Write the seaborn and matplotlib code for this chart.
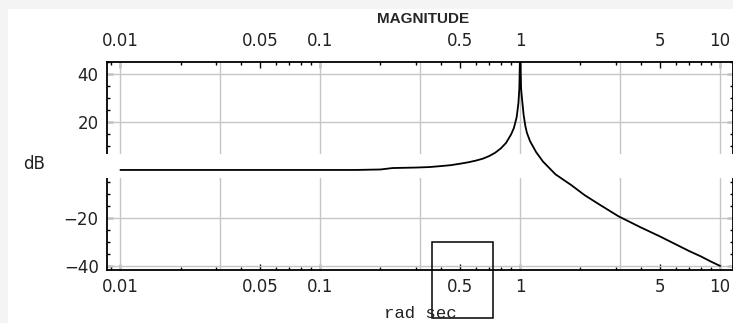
import numpy as np
import pandas as pd
import matplotlib
matplotlib.use("Agg")
import matplotlib.pyplot as plt
import matplotlib.ticker as mticker
import matplotlib.transforms as mtransforms
from matplotlib.patches import Rectangle
import seaborn as sns

sns.set_style("ticks")
plt.rcParams['font.family'] = ['DejaVu Sans']

# values (frequency in rad/sec, magnitude in dB)
freq = [0.01, 0.05, 0.1, 0.15, 0.2, 0.23, 0.3, 0.35, 0.4, 0.45, 0.5, 0.55, 0.6,
        0.65, 0.7, 0.75, 0.8, 0.85, 0.9, 0.93, 0.96, 0.98, 0.99, 1.0, 1.01,
        1.02, 1.04, 1.06, 1.08, 1.12, 1.2, 1.3, 1.5, 1.8, 2.1, 2.5, 3.1, 4, 5,
        6, 7, 8, 9, 10]
mag_db = [0, 0, 0, 0, 0.2, 0.8, 1.0, 1.2, 1.6, 2.0, 2.6, 3.2, 3.9,
          4.7, 5.8, 7.2, 9.0, 11.3, 14.8, 17.5, 22, 28, 34, 52, 34,
          30, 23, 18.5, 15.5, 12, 7.5, 3.5, -1.8, -6.3, -10.5, -14.5, -19.3, -23.9, -27.7,
          -31, -33.8, -36, -38.2, -40]

x_ticks = [0.01, 0.05, 0.1, 0.5, 1, 5, 10]
x_labels = ["0.01", "0.05", "0.1", "0.5", "1", "5", "10"]
y_ticks = [-40, -20, 20, 40]
x_grid = [0.01, 0.0316, 0.1, 0.316, 1, 3.16, 10]
y_grid = [-40, -20, 0, 20, 40]

df = pd.DataFrame({'freq': freq, 'mag': mag_db})

W, H = 733, 323
fig = plt.figure(figsize=(W / 100, H / 100), dpi=100, facecolor='#f4f4f4')
fig.add_artist(Rectangle((8 / W, 0), 1, (H - 9) / H, transform=fig.transFigure,
                         facecolor='white', edgecolor='none', zorder=-10))

ax = fig.add_axes([107 / W, 1 - 270 / H, 626 / W, 208 / H])
ax.set_facecolor('white')
ax.set_xscale('log')

for g in x_grid:
    ax.axvline(g, color='#c6c6c6', lw=1.0, zorder=1)
for g in y_grid:
    ax.axhline(g, color='#c6c6c6', lw=1.0, zorder=1)

sns.lineplot(data=df, x='freq', y='mag', color='black', lw=1.3, ax=ax, zorder=4)

# white band behind the dB label that breaks the frame and grid
ax.add_patch(Rectangle((-0.02, -3.3), 1.04, 10.0, transform=ax.get_yaxis_transform(),
                       facecolor='white', edgecolor='none', zorder=3, clip_on=False))

ax.set_xlim(0.00857, 11.6)
ax.set_ylim(-41.7, 45)

ax.xaxis.set_major_locator(mticker.FixedLocator(x_ticks))
ax.xaxis.set_major_formatter(mticker.FixedFormatter(x_labels))
ax.xaxis.set_minor_locator(mticker.LogLocator(base=10, subs=(2, 3, 4, 6, 7, 8, 9)))
ax.xaxis.set_minor_formatter(mticker.NullFormatter())
ax.yaxis.set_major_locator(mticker.FixedLocator(y_ticks))
ax.yaxis.set_minor_locator(mticker.MultipleLocator(5))

ax.tick_params(which='both', direction='in', top=True, right=True, labeltop=True,
               color='black', width=1.0, labelsize=12, labelcolor='#222222')
ax.tick_params(which='major', length=4.5)
ax.tick_params(which='minor', length=2.2)
ax.tick_params(axis='x', which='major', pad=6)
ax.tick_params(axis='y', which='major', pad=6)

offset = mtransforms.ScaledTranslation(0, 3 / 72, fig.dpi_scale_trans)
for t in ax.xaxis.get_major_ticks():
    t.label2.set_transform(t.label2.get_transform() + offset)

for s in ax.spines.values():
    s.set_color('black')
    s.set_linewidth(1.3)

ax.set_xlabel("")
ax.set_ylabel("")

fig.text(423 / W, 1 - 19 / H, "MAGNITUDE", ha='center', va='center', fontsize=11,
         fontweight='bold', family=['Liberation Sans Narrow', 'Liberation Sans'])
fig.text(34 / W, 1 - 164 / H, "dB", ha='center', va='center', fontsize=12, color='#222222')
fig.text(420 / W, 1 - 313 / H, "rad sec", ha='center', va='center', fontsize=12.5,
         family='Liberation Mono', color='#222222')
fig.add_artist(Rectangle((432 / W, 1 - 318 / H), 61 / W, 76 / H, transform=fig.transFigure,
                         fill=False, edgecolor='black', lw=1.1))

fig.savefig("out.png", dpi=100, facecolor=fig.get_facecolor())
